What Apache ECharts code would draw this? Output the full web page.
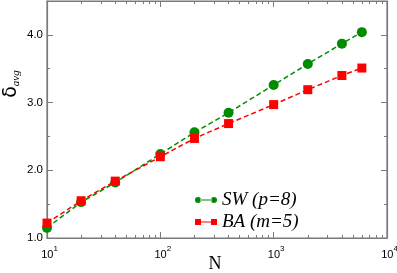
<!DOCTYPE html>
<html><head><meta charset="utf-8">
<script src="https://cdn.jsdelivr.net/npm/echarts@6/dist/echarts.min.js"></script>
<style>html,body{margin:0;padding:0;background:#fff}#c{width:397px;height:273px}</style>
</head><body><div id="c"></div>
<script>
const nValues = [10, 20, 40, 100, 200, 400, 1000, 2000, 4000, 6000];
const swValues = [1.15, 1.53, 1.82, 2.24, 2.56, 2.85, 3.26, 3.57, 3.87, 4.04];
const baValues = [1.22, 1.55, 1.84, 2.20, 2.47, 2.69, 2.97, 3.19, 3.40, 3.51];
const seriesNames = ['SW (p=8)', 'BA (m=5)'];
const xMinorTicks = [20,30,40,50,60,70,80,90,200,300,400,500,600,700,800,900,2000,3000,4000,5000,6000,7000,8000,9000];
const yMajorLabels = ['1.0', '2.0', '3.0', '4.0'];

const GRAY = '#7a7a7a';
const GREEN = '#008c00';
const RED = '#ff0000';

function pairs(xs, ys) { return xs.map((x, i) => [x, ys[i]]); }

function majorX(pos, withLabels) {
  return {type: 'log', min: 10, max: 10000, position: pos, splitLine: {show: false},
    axisLine: {show: true, lineStyle: {color: GRAY, width: 1.2}},
    axisTick: {show: true, inside: true, length: 6, lineStyle: {color: GRAY, width: 1}},
    axisLabel: withLabels ? {show: true, margin: 7, color: '#000',
      formatter: v => '{p|}{b|10}{s|' + Math.round(Math.log10(v)) + '}',
      rich: {
        p: {width: 5},
        b: {fontSize: 11, fontFamily: 'Liberation Sans', color: '#000', lineHeight: 15, verticalAlign: 'bottom'},
        s: {fontSize: 8, fontFamily: 'Liberation Sans', color: '#000', verticalAlign: 'top'}
      }} : {show: false}};
}
// minor-tick axes live in decade (exponent) space: 10 -> 1, 10000 -> 4
function minorX(pos) {
  return {type: 'value', min: Math.log10(10), max: Math.log10(10000), position: pos, splitLine: {show: false},
    axisLine: {show: false}, axisLabel: {show: false},
    axisTick: {show: true, inside: true, length: 3, customValues: xMinorTicks.map(v => Math.log10(v)), lineStyle: {color: GRAY, width: 1}}};
}
function yAx(pos, interval, len, withLabels) {
  return {type: 'value', min: 1, max: 4.5, interval: interval, position: pos, splitLine: {show: false},
    axisLine: {show: len === 6, lineStyle: {color: GRAY, width: 1.2}},
    axisTick: {show: true, inside: true, length: len, lineStyle: {color: GRAY, width: 1}},
    axisLabel: withLabels ? {show: true, margin: 4, color: '#000', fontSize: 11.5, fontFamily: 'Liberation Sans',
      showMaxLabel: false,
      formatter: v => { const i = Math.round(v) - 1; return (Math.abs(v - Math.round(v)) < 1e-6 && yMajorLabels[i]) ? yMajorLabels[i] : ''; }} : {show: false}};
}

const chart = echarts.init(document.getElementById('c'), null, {renderer: 'canvas'});
chart.setOption({
  animation: false,
  grid: {left: 47, right: 10, top: 1, bottom: 35, outerBoundsMode: 'none',
    show: true, borderColor: GRAY, borderWidth: 1.2, backgroundColor: 'transparent'},
  xAxis: [majorX('bottom', true), minorX('bottom'), majorX('top', false), minorX('top')],
  yAxis: [yAx('left', 1, 6, true), yAx('left', 0.5, 3, false), yAx('right', 1, 6, false), yAx('right', 0.5, 3, false)],
  legend: {
    orient: 'vertical', left: 190, top: 185, itemGap: 2, itemWidth: 22, itemHeight: 6,
    textStyle: {fontFamily: 'Liberation Serif', fontStyle: 'italic', fontSize: 19, color: '#000', lineHeight: 20},
    data: [
      {name: seriesNames[0], icon: 'path://M0,3a3,3 0 1,0 6,0a3,3 0 1,0 -6,0zM16,3a3,3 0 1,0 6,0a3,3 0 1,0 -6,0zM5,2.5h12v1h-12z'},
      {name: seriesNames[1], icon: 'path://M0,0h6v6h-6zM16,0h6v6h-6zM5,2.5h12v1h-12z'}
    ]
  },
  graphic: [
    {type: 'text', x: 12, y: 84, rotation: Math.PI / 2,
      style: {text: '{d|δ}{s|avg}', align: 'center', verticalAlign: 'middle',
        rich: {
          d: {fontSize: 19, fontFamily: 'DejaVu Sans', fill: '#000', lineHeight: 20, verticalAlign: 'top'},
          s: {fontSize: 11, fontFamily: 'Liberation Serif', fontStyle: 'italic', fill: '#000', verticalAlign: 'bottom', padding: [6,0,0,0]}
        }}},
    {type: 'text', x: 215, y: 264,
      style: {text: 'N', fontSize: 18, fontFamily: 'Liberation Serif', fill: '#000', align: 'center', verticalAlign: 'middle'}}
  ],
  series: [
    {name: seriesNames[0], type: 'line', xAxisIndex: 0, yAxisIndex: 0, data: pairs(nValues, swValues),
      symbol: 'circle', symbolSize: 10, itemStyle: {color: GREEN},
      lineStyle: {color: GREEN, width: 1.5, type: [5, 3]}, z: 3},
    {name: seriesNames[1], type: 'line', xAxisIndex: 0, yAxisIndex: 0, data: pairs(nValues, baValues),
      symbol: 'rect', symbolSize: 9, itemStyle: {color: RED},
      lineStyle: {color: RED, width: 1.5, type: [5, 3]}, z: 4},
    {type: 'line', xAxisIndex: 1, yAxisIndex: 1, data: [], silent: true},
    {type: 'line', xAxisIndex: 2, yAxisIndex: 2, data: [], silent: true},
    {type: 'line', xAxisIndex: 3, yAxisIndex: 3, data: [], silent: true}
  ]
});
</script></body></html>
